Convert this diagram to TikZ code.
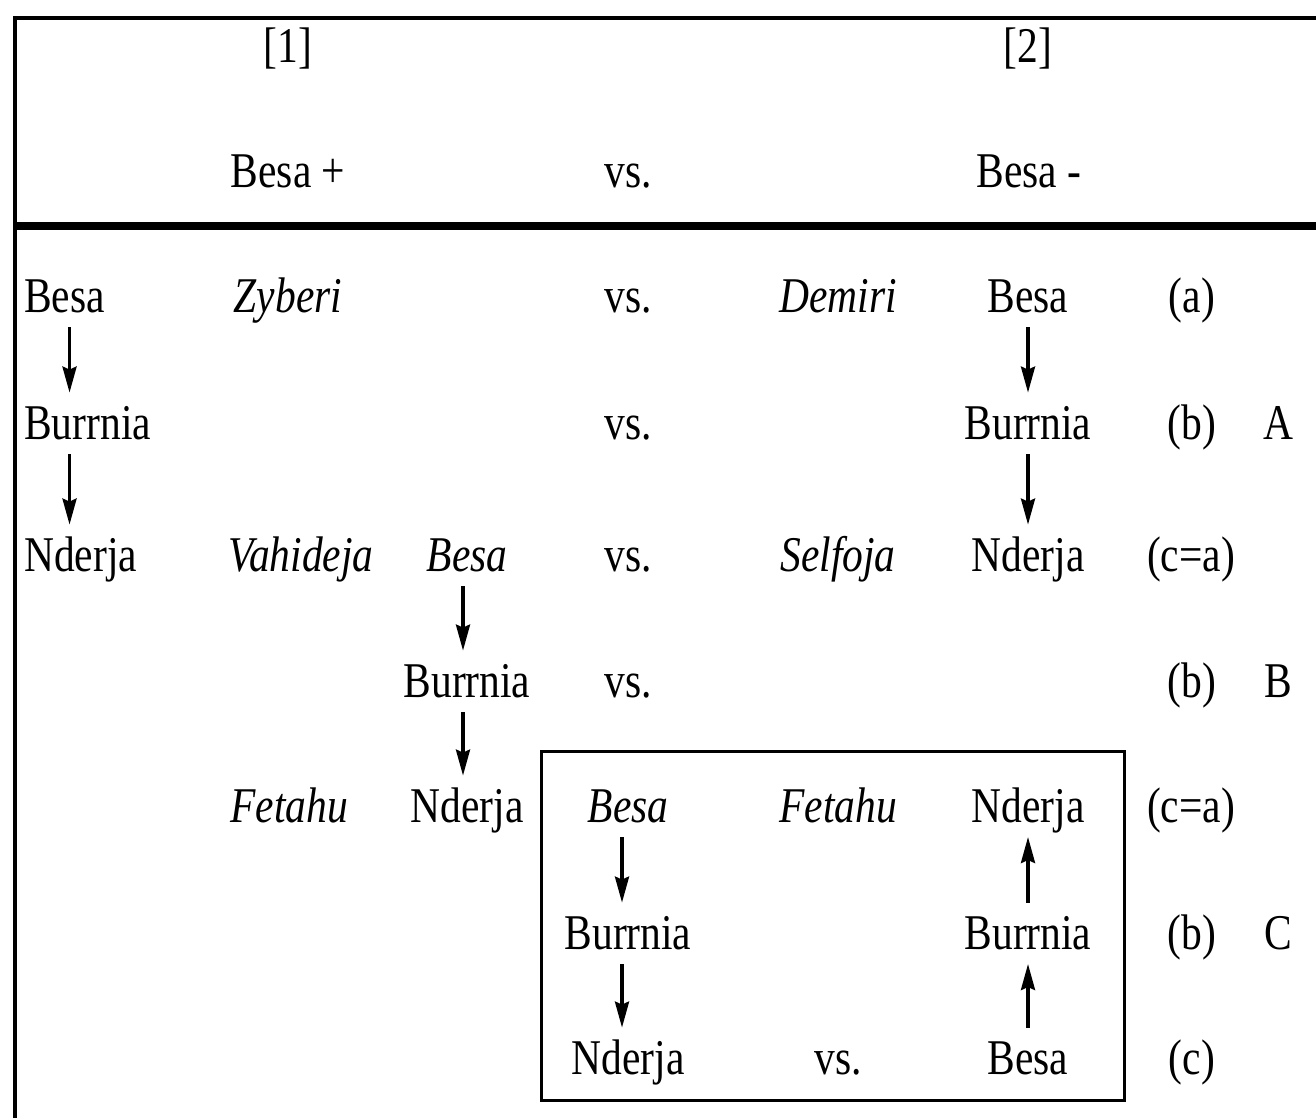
\documentclass[tikz,border=0pt]{standalone}
\usepackage{fontspec}
\setmainfont{Liberation Serif}[FakeStretch=0.83]
\usetikzlibrary{arrows.meta}
\begin{document}
\begin{tikzpicture}[x=1pt,y=-1pt,
  lbl/.style={inner sep=0pt, text height=33pt, text depth=0pt, anchor=south,
              font=\fontsize{50}{60}\selectfont},
  lleft/.style={lbl, anchor=south west},
  it/.style={lbl, font=\fontsize{50}{60}\selectfont\itshape},
  arr/.style={line width=3.4pt, -{Stealth[length=26pt,width=14pt,inset=3pt]},
              shorten <=14pt, shorten >=14pt},
  rule/.style={line width=4pt},
  thickrule/.style={line width=8pt},
  framebox/.style={line width=3pt}]
\useasboundingbox (0,0) rectangle (1316,1118);

% frame and header rule
\draw[rule] (15,1118) -- (15,18) -- (1316,18);
\draw[thickrule] (13,226) -- (1316,226);

% header
\node[lbl] (h1) at (288,63) {[1]};
\node[lbl] (h2) at (1028,63) {[2]};
\node[lbl] (hp) at (288,188) {Besa +};
\node[lbl] (hvs) at (628,188) {vs.};
\node[lbl] (hm) at (1029,188) {Besa -};

% row 1
\node[lleft] (l1) at (24,313) {Besa};
\node[it] (z1) at (288,313) {Zyberi};
\node[lbl] (v1) at (628,313) {vs.};
\node[it] (d1) at (838,313) {Demiri};
\node[lbl] (r1) at (1028,313) {Besa};
\node[lbl] (k1) at (1192,313) {(a)};

% row 2
\node[lleft] (l2) at (24,440) {Burrnia};
\node[lbl] (v2) at (628,440) {vs.};
\node[lbl] (r2) at (1028,440) {Burrnia};
\node[lbl] (k2) at (1192,440) {(b)};
\node[lbl] (gA) at (1278,440) {A};

% row 3
\node[lleft] (l3) at (24,572) {Nderja};
\node[it] (z3) at (301,572) {Vahideja};
\node[it] (m3) at (467,572) {Besa};
\node[lbl] (v3) at (628,572) {vs.};
\node[it] (d3) at (838,572) {Selfoja};
\node[lbl] (r3) at (1028,572) {Nderja};
\node[lbl] (k3) at (1191,572) {(c=a)};

% row 4
\node[lbl] (m4) at (467,698) {Burrnia};
\node[lbl] (v4) at (628,698) {vs.};
\node[lbl] (k4) at (1192,698) {(b)};
\node[lbl] (gB) at (1278,698) {B};

% row 5
\node[it] (z5) at (289,823) {Fetahu};
\node[lbl] (m5) at (467,823) {Nderja};
\node[it] (b5) at (628,823) {Besa};
\node[it] (d5) at (838,823) {Fetahu};
\node[lbl] (r5) at (1028,823) {Nderja};
\node[lbl] (k5) at (1191,823) {(c=a)};

% row 6
\node[lbl] (b6) at (628,950) {Burrnia};
\node[lbl] (r6) at (1028,950) {Burrnia};
\node[lbl] (k6) at (1192,950) {(b)};
\node[lbl] (gC) at (1278,950) {C};

% row 7
\node[lbl] (b7) at (628,1075) {Nderja};
\node[lbl] (v7) at (838,1075) {vs.};
\node[lbl] (r7) at (1028,1075) {Besa};
\node[lbl] (k7) at (1192,1075) {(c)};

% boxed comparison
\draw[framebox] (541,751) rectangle (1124,1100);

% causal chains
\draw[arr] ([xshift=5pt]l1.south) -- ([xshift=5pt]l1.south |- l2.north);
\draw[arr] ([xshift=5pt]l1.south |- l2.south) -- ([xshift=5pt]l1.south |- l3.north);
\draw[arr] (r1.south) -- (r2.north);
\draw[arr] (r2.south) -- (r3.north);
\draw[arr] ([xshift=-4pt]m3.south) -- ([xshift=-4pt]m3.south |- m4.north);
\draw[arr] ([xshift=-4pt]m3.south |- m4.south) -- ([xshift=-4pt]m3.south |- m5.north);
\draw[arr] ([xshift=-6pt]b5.south) -- ([xshift=-6pt]b5.south |- b6.north);
\draw[arr] ([xshift=-6pt]b5.south |- b6.south) -- ([xshift=-6pt]b5.south |- b7.north);
\draw[arr] (r7.north) -- (r6.south);
\draw[arr] (r6.north) -- (r5.south);
\end{tikzpicture}
\end{document}
